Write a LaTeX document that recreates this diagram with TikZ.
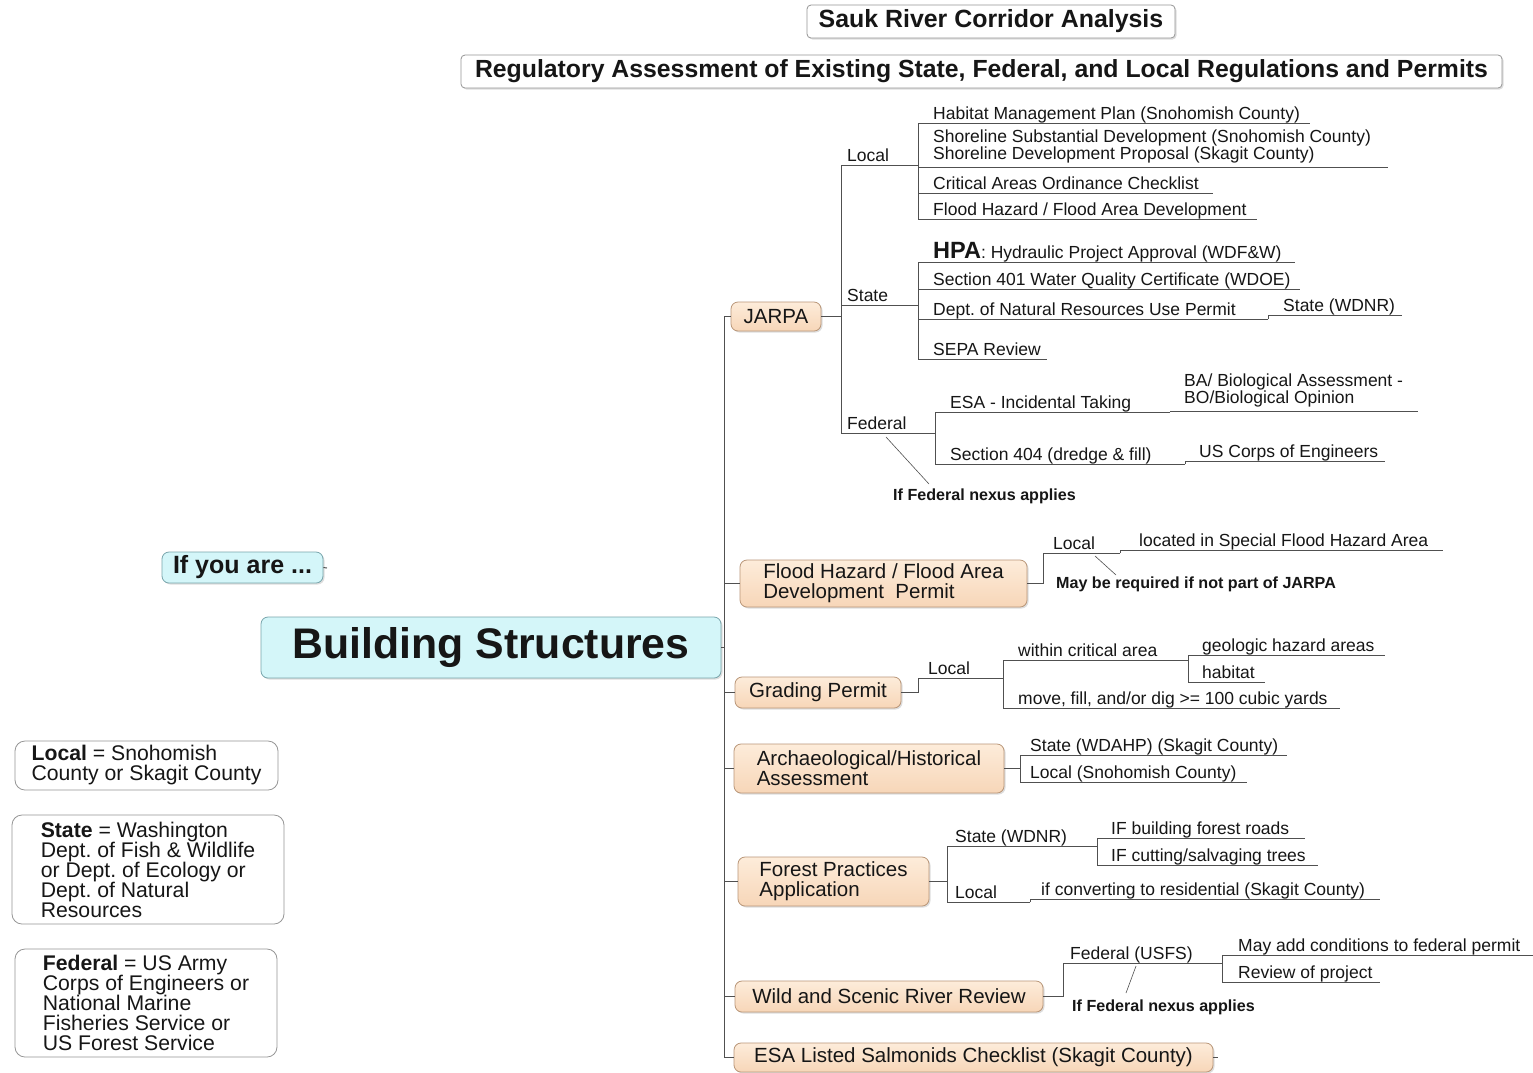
\documentclass[tikz,border=0pt]{standalone}
\usepackage{fontspec}
\setmainfont{Liberation Sans}
\usetikzlibrary{shadows}
\frenchspacing
\definecolor{txt}{RGB}{22,22,22}
\definecolor{linec}{RGB}{80,80,80}
\definecolor{cyanfill}{RGB}{212,246,249}
\definecolor{cyanbord}{RGB}{120,165,172}
\definecolor{orTop}{RGB}{253,236,218}
\definecolor{orBot}{RGB}{247,214,184}
\definecolor{orBord}{RGB}{185,150,120}
\definecolor{greybord}{RGB}{150,150,150}
\newcommand\fsmall{\fontsize{17.5}{17}\selectfont}
\newcommand\ulab[7][]{%
  \coordinate (#2-a) at (#3,#5);
  \coordinate (#2-b) at (#4,#5);
  \draw[conn] (#2-a) -- (#2-b);
  \node[lbl,#1] (#2) at (#6,#5-4) {#7};
}
\tikzset{
  conn/.style={draw=linec, line width=1pt},
  lbl/.style={inner sep=0pt, anchor=base west, text=txt, font=\fsmall, align=left},
  twol/.style={anchor=south west},
  notelbl/.style={inner sep=0pt, anchor=base west, text=txt, font=\bfseries\fontsize{16.1}{16}\selectfont},
  sh/.style={drop shadow={shadow xshift=1.5pt, shadow yshift=-1.5pt, opacity=0.22, fill=black!60}},
  obox/.style={sh, rounded corners=7pt, draw=orBord, line width=0.8pt, top color=orTop, bottom color=orBot,
    text=txt, font=\fontsize{20.5}{20}\selectfont, align=left, inner sep=0pt},
  cbox/.style={sh, rounded corners=7pt, draw=cyanbord, line width=0.8pt, fill=cyanfill, text=txt, inner sep=0pt},
  tbox/.style={sh, rounded corners=4pt, draw=greybord, line width=0.8pt, fill=white, text=txt, inner sep=0pt},
  legbox/.style={rounded corners=10pt, draw=greybord, line width=0.8pt, fill=white, text=txt,
    font=\fontsize{21.2}{20}\selectfont, align=left, inner sep=0pt},
}
\begin{document}
\begin{tikzpicture}[x=1pt,y=-1pt]
\path[use as bounding box, fill=white] (0,0) rectangle (1533,1072);

% titles
\node[tbox, minimum width=368pt, minimum height=33pt, font=\bfseries\fontsize{24.9}{25}\selectfont] (sauk) at (991,21.5) {\raisebox{-1.5pt}{Sauk River Corridor Analysis}};
\node[tbox, minimum width=1041pt, minimum height=33pt, font=\bfseries\fontsize{24.8}{25}\selectfont] (reg) at (981.5,71.5) {\raisebox{-1pt}{Regulatory Assessment of Existing State, Federal, and Local Regulations and Permits}};

% central
\node[cbox, minimum width=161pt, minimum height=31pt, font=\bfseries\fontsize{25}{25}\selectfont] (ifyou) at (242.5,567.5) {If you are ...};
\coordinate (ifyouTick) at (327,568);
\draw[conn] (ifyou.east) -- (ifyouTick);
\node[cbox, minimum width=460pt, minimum height=61pt, font=\bfseries\fontsize{42.8}{43}\selectfont] (bs) at (491,647.5) {Building Structures};

% legend
\node[legbox, minimum width=263pt, minimum height=49pt] (legLocal) at (146.5,765.5) {\textbf{Local} = Snohomish\\County or Skagit County};
\node[legbox, minimum width=272pt, minimum height=109pt] (legState) at (148,869.5) {\textbf{State} = Washington\\Dept. of Fish \& Wildlife\\or Dept. of Ecology or\\Dept. of Natural\\Resources};
\node[legbox, minimum width=262pt, minimum height=108pt] (legFed) at (146,1003) {\textbf{Federal} = US Army\\Corps of Engineers or\\National Marine\\Fisheries Service or\\US Forest Service};

% trunk
\coordinate (tTop) at (724,317);
\coordinate (tBot) at (724,1057);
\draw[conn] (tTop) -- (tBot);
\draw[conn] (bs.east) -- (bs.east -| tTop);

% permit boxes
\node[obox, minimum width=90pt, minimum height=29pt] (jarpa) at (776,316.5) {JARPA};
\node[obox, minimum width=287pt, minimum height=47pt] (flood) at (883.5,583.5) {Flood Hazard / Flood Area\\Development\ \ Permit};
\node[obox, minimum width=166pt, minimum height=31pt] (grading) at (818,692.5) {Grading Permit};
\node[obox, minimum width=270pt, minimum height=49pt] (arch) at (869,768.5) {Archaeological/Historical\\Assessment};
\node[obox, minimum width=191pt, minimum height=49pt] (forest) at (833.5,881.5) {Forest Practices\\Application};
\node[obox, minimum width=308pt, minimum height=31pt] (wild) at (889,996.5) {Wild and Scenic River Review};
\node[obox, minimum width=479pt, minimum height=29pt] (esa) at (973.5,1057.5) {ESA Listed Salmonids Checklist (Skagit County)};
\coordinate (esaTick) at (1218,1057.5);
\draw[conn] (esa.east) -- (esaTick);
\foreach \b in {jarpa,flood,grading,arch,forest,wild,esa}
  \draw[conn] (\b.west) -- (\b.west -| tTop);

% ---- JARPA ----
\ulab{jloc}{841}{918}{165}{847}{Local}
\ulab{hmp}{918}{1310}{123}{933}{Habitat Management Plan (Snohomish County)}
\ulab[twol]{shore}{918}{1388}{167}{933}{Shoreline Substantial Development (Snohomish County)\\Shoreline Development Proposal (Skagit County)}
\ulab{cao}{918}{1213}{193}{933}{Critical Areas Ordinance Checklist}
\ulab{fhd}{918}{1257}{219}{933}{Flood Hazard / Flood Area Development}
\draw[conn] (hmp-a) -- (fhd-a);

\ulab{jst}{841}{918}{305}{847}{State}
\ulab{hpa}{918}{1295}{262}{933}{{\bfseries\fontsize{23.5}{23}\selectfont HPA}: Hydraulic Project Approval (WDF\&W)}
\ulab{sfour}{918}{1300}{289}{933}{Section 401 Water Quality Certificate (WDOE)}
\ulab{dnr}{918}{1268}{319}{933}{Dept. of Natural Resources Use Permit}
\ulab{wdnr}{1268}{1402}{315}{1283}{State (WDNR)}
\draw[conn] (dnr-b) -- (wdnr-a);
\ulab{sepa}{918}{1047}{359}{933}{SEPA Review}
\draw[conn] (hpa-a) -- (sepa-a);

\ulab{jfed}{841}{935}{433}{847}{Federal}
\ulab{esait}{935}{1170}{412}{950}{ESA - Incidental Taking}
\ulab[twol]{ba}{1170}{1418}{411}{1184}{BA/ Biological Assessment -\\BO/Biological Opinion}
\draw[conn] (esait-b) -- (ba-a);
\ulab{sfoo}{935}{1185}{464}{950}{Section 404 (dredge \& fill)}
\ulab{usc}{1185}{1385}{461}{1199}{US Corps of Engineers}
\draw[conn] (sfoo-b) -- (usc-a);
\draw[conn] (esait-a) -- (sfoo-a);

\draw[conn] (jloc-a) -- (jfed-a);
\draw[conn] (jarpa.east) -- (jarpa.east -| jloc-a);
\node[notelbl] (nexus1) at (893,500) {If Federal nexus applies};
\coordinate (nx1) at (886,437);
\coordinate (nx1e) at (929,484);
\draw[conn, line width=0.6pt] (nx1) -- (nx1e);

% ---- Flood ----
\ulab{floc}{1043}{1120}{553}{1053}{Local}
\ulab{sfha}{1120}{1443}{550}{1139}{located in Special Flood Hazard Area}
\draw[conn] (floc-b) -- (sfha-a);
\draw[conn] (flood.east) -| (floc-a);
\node[notelbl] (jnote) at (1056,588) {May be required if not part of JARPA};
\coordinate (nx2) at (1095,556);
\coordinate (nx2e) at (1116,575);
\draw[conn, line width=0.6pt] (nx2) -- (nx2e);

% ---- Grading ----
\ulab{gloc}{918}{1003}{678}{928}{Local}
\ulab{wca}{1003}{1188}{660}{1018}{within critical area}
\ulab{geo}{1188}{1385}{655}{1202}{geologic hazard areas}
\ulab{hab}{1188}{1265}{682}{1202}{habitat}
\ulab{mfd}{1003}{1340}{708}{1018}{move, fill, and/or dig >= 100 cubic yards}
\draw[conn] (geo-a) -- (hab-a);
\draw[conn] (wca-a) -- (mfd-a);
\draw[conn] (grading.east) -| (gloc-a);

% ---- Archaeological ----
\ulab{wdahp}{1020}{1287}{755}{1030}{State (WDAHP) (Skagit County)}
\ulab{lsc}{1020}{1247}{782}{1030}{Local (Snohomish County)}
\draw[conn] (wdahp-a) -- (lsc-a);
\draw[conn] (arch.east) -- (arch.east -| wdahp-a);

% ---- Forest ----
\ulab{fst}{947}{1097}{846}{955}{State (WDNR)}
\ulab{ifb}{1097}{1305}{838}{1111}{IF building forest roads}
\ulab{ifc}{1097}{1318}{865}{1111}{IF cutting/salvaging trees}
\ulab{floctwo}{947}{1030}{902}{955}{Local}
\ulab{conv}{1030}{1380}{899}{1041}{if converting to residential (Skagit County)}
\draw[conn] (fst-a) -- (floctwo-a);
\draw[conn] (ifb-a) -- (ifc-a);
\draw[conn] (floctwo-b) -- (conv-a);
\draw[conn] (forest.east) -- (forest.east -| fst-a);

% ---- Wild and Scenic ----
\ulab{usfs}{1063}{1222}{963}{1070}{Federal (USFS)}
\ulab{mac}{1222}{1533}{955}{1238}{May add conditions to federal permit}
\ulab{rop}{1222}{1380}{982}{1238}{Review of project}
\draw[conn] (mac-a) -- (rop-a);
\draw[conn] (wild.east) -| (usfs-a);
\node[notelbl] (nexus2) at (1072,1011) {If Federal nexus applies};
\coordinate (nx3) at (1136,966);
\coordinate (nx3e) at (1126,993);
\draw[conn, line width=0.6pt] (nx3) -- (nx3e);
\end{tikzpicture}
\end{document}
